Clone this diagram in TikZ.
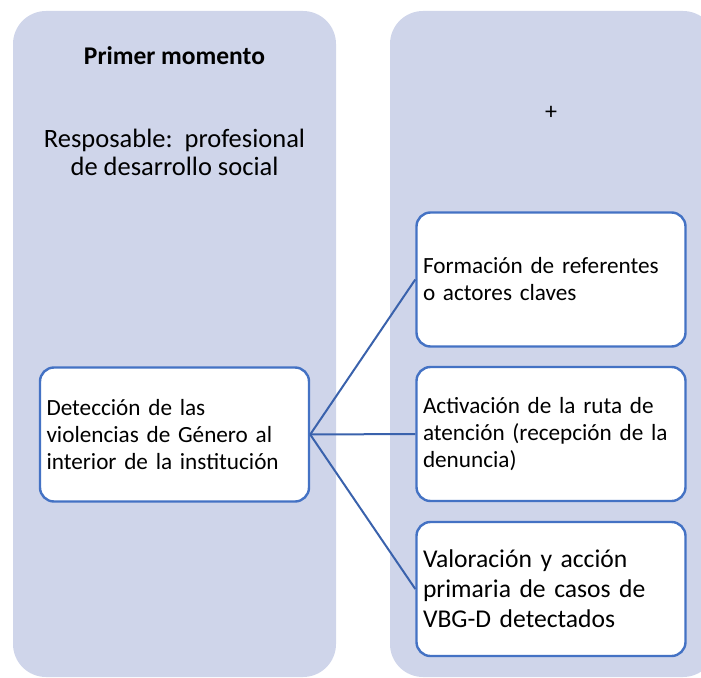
\documentclass[tikz,border=0pt]{standalone}
\usepackage{fontspec}
\setmainfont{Carlito}
\usetikzlibrary{positioning}

\definecolor{panelfill}{HTML}{CFD5EA}
\definecolor{boxline}{HTML}{4472C4}
\definecolor{linkline}{HTML}{3A62AC}

\tikzset{
  panel/.style={fill=panelfill, rounded corners=33pt, minimum width=323pt, minimum height=666pt, inner sep=0pt},
  stagebox/.style={draw=boxline, line width=2.4pt, fill=white, rounded corners=14pt, minimum width=269pt, minimum height=134pt, text width=256pt, align=left, inner xsep=6pt, font=\fontsize{23.2}{27}\selectfont},
  link/.style={draw=linkline, line width=2pt}
}

\begin{document}
\begin{tikzpicture}[x=1pt, y=-1pt]
\useasboundingbox (0,0) rectangle (701,677);
\clip (0,0) rectangle (701,677);

\node[panel](panelL) at (174.5, 344) {};
\node[panel, minimum width=326pt](panelR) at (553, 344) {};

\node[anchor=base, font=\bfseries\fontsize{25.5}{30}\selectfont](title) at (174.5, 64) {Primer momento};
\node[anchor=base, align=center, font=\fontsize{26.5}{28}\selectfont](resp) at (174.5, 175) {Resposable:\ \ profesional\\de desarrollo social};
\node[font=\fontsize{24}{28}\selectfont](plus) at (551, 113) {+};

\node[stagebox](detect) at (174.5, 434.5) {Detección de las\\violencias de Género al\\interior de la institución};

\node[stagebox](form) at (551, 279.5) {Formación de referentes\\o actores claves};
\node[stagebox](ruta) at (551, 434) {Activación de la ruta de\\atención (recepción de la\\denuncia)};
\node[stagebox, font=\fontsize{25.6}{30}\selectfont](valor) at (551, 589) {Valoración y acción\\primaria de casos de\\VBG-D detectados};

\draw[link] (detect.east) -- (form.west);
\draw[link] (detect.east) -- (ruta.west);
\draw[link] (detect.east) -- (valor.west);
\end{tikzpicture}
\end{document}
